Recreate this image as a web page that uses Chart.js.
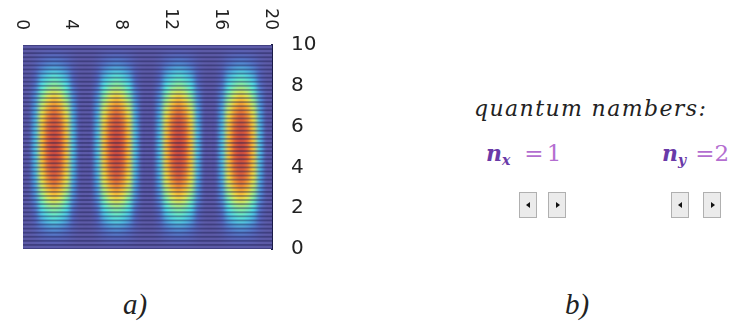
<!DOCTYPE html>
<html>
<head>
<meta charset="utf-8">
<script src="https://cdn.jsdelivr.net/npm/chart.js@4"></script>
<style>
  html, body { margin: 0; padding: 0; background: #ffffff; }
  body { width: 738px; height: 332px; position: relative; overflow: hidden; }
  #c { position: absolute; left: 0; top: 0; }
  .lbl { position: absolute; white-space: nowrap; }
  #qn { left: 474px; top: 96px; font: italic 22px "DejaVu Serif", serif; color: #222; letter-spacing: 1.4px; }
  .nq { top: 140px; font-family: "DejaVu Serif", serif; font-size: 22px; color: #b46ed0; }
  .nq b { font-style: italic; color: #6a3aa8; font-weight: bold; }
  .nq sub { font-style: italic; font-weight: bold; font-size: 14px; color: #6a3aa8; vertical-align: -4px; }
  .nq .eq { font-size: 23px; }
  #nx .eq { margin-left: 14px; letter-spacing: 3px; }
  #ny .eq { margin-left: 9px; }
  #nx { left: 486px; }
  #ny { left: 662px; }
  .btn { position: absolute; top: 192px; width: 18px; height: 26px; box-sizing: border-box;
         border: 1px solid #b0b0b0; background: #ebebeb; }
  .btn::after { content: ""; position: absolute; top: 9px; width: 0; height: 0;
         border-top: 3.5px solid transparent; border-bottom: 3.5px solid transparent; }
  .btn.l::after { left: 6px; border-right: 4px solid #111; }
  .btn.r::after { left: 7px; border-left: 4px solid #111; }
  .cap { top: 288px; font: italic 29px "Liberation Serif", serif; color: #222; }
</style>
</head>
<body>
<canvas id="c" width="330" height="280"></canvas>
<div class="lbl" id="qn">quantum nambers:</div>
<div class="lbl nq" id="nx"><b>n</b><sub>x</sub><span class="eq">=1</span></div>
<div class="lbl nq" id="ny"><b>n</b><sub>y</sub><span class="eq">=2</span></div>
<div class="btn l" style="left:519px"></div>
<div class="btn r" style="left:548px"></div>
<div class="btn l" style="left:671px"></div>
<div class="btn r" style="left:703px"></div>
<div class="lbl cap" style="left:123px">a)</div>
<div class="lbl cap" style="left:565px">b)</div>
<script>
// ---- data ----
const xTickLabels = [0, 4, 8, 12, 16, 20];
const yTickLabels = [0, 2, 4, 6, 8, 10];
// sample positions of the density grid
const xSamples = [0,0.5,1,1.5,2,2.5,3,3.5,4,4.5,5,5.5,6,6.5,7,7.5,8,8.5,9,9.5,10,
                  10.5,11,11.5,12,12.5,13,13.5,14,14.5,15,15.5,16,16.5,17,17.5,18,18.5,19,19.5,20];
const ySamples = [0,0.5,1,1.5,2,2.5,3,3.5,4,4.5,5,5.5,6,6.5,7,7.5,8,8.5,9,9.5,10];
// probability density (0..100), one row per y sample, bottom (y=0) to top (y=10)
const density = [
 [0,0,0,0,0,0,0,0,0,0,0,0,0,0,0,0,0,0,0,0,0,0,0,0,0,0,0,0,0,0,0,0,0,0,0,0,0,0,0,0,0],
 [0,0,2,5,7,8,7,5,2,0,0,0,2,5,7,8,7,5,2,0,0,0,2,5,7,8,7,5,2,0,0,0,2,5,7,8,7,5,2,0,0],
 [0,1,6,14,18,20,18,14,6,1,0,1,6,14,18,20,18,14,6,1,0,1,6,14,18,20,18,14,6,1,0,1,6,14,18,20,18,14,6,1,0],
 [0,1,11,26,33,37,33,26,11,1,0,1,11,26,33,37,33,26,11,1,0,1,11,26,33,37,33,26,11,1,0,1,11,26,33,37,33,26,11,1,0],
 [0,2,15,35,45,50,45,35,15,2,0,2,15,35,45,50,45,35,15,2,0,2,15,35,45,50,45,35,15,2,0,2,15,35,45,50,45,35,15,2,0],
 [0,3,20,47,60,67,60,47,20,3,0,3,20,47,60,67,60,47,20,3,0,3,20,47,60,67,60,47,20,3,0,3,20,47,60,67,60,47,20,3,0],
 [0,3,24,56,72,80,72,56,24,3,0,3,24,56,72,80,72,56,24,3,0,3,24,56,72,80,72,56,24,3,0,3,24,56,72,80,72,56,24,3,0],
 [0,4,27,63,81,90,81,63,27,4,0,4,27,63,81,90,81,63,27,4,0,4,27,63,81,90,81,63,27,4,0,4,27,63,81,90,81,63,27,4,0],
 [0,4,29,67,86,95,86,67,29,4,0,4,29,67,86,95,86,67,29,4,0,4,29,67,86,95,86,67,29,4,0,4,29,67,86,95,86,67,29,4,0],
 [0,4,29,69,88,98,88,69,29,4,0,4,29,69,88,98,88,69,29,4,0,4,29,69,88,98,88,69,29,4,0,4,29,69,88,98,88,69,29,4,0],
 [0,4,30,70,90,100,90,70,30,4,0,4,30,70,90,100,90,70,30,4,0,4,30,70,90,100,90,70,30,4,0,4,30,70,90,100,90,70,30,4,0],
 [0,4,29,69,88,98,88,69,29,4,0,4,29,69,88,98,88,69,29,4,0,4,29,69,88,98,88,69,29,4,0,4,29,69,88,98,88,69,29,4,0],
 [0,4,29,67,86,95,86,67,29,4,0,4,29,67,86,95,86,67,29,4,0,4,29,67,86,95,86,67,29,4,0,4,29,67,86,95,86,67,29,4,0],
 [0,4,27,63,81,90,81,63,27,4,0,4,27,63,81,90,81,63,27,4,0,4,27,63,81,90,81,63,27,4,0,4,27,63,81,90,81,63,27,4,0],
 [0,3,24,56,72,80,72,56,24,3,0,3,24,56,72,80,72,56,24,3,0,3,24,56,72,80,72,56,24,3,0,3,24,56,72,80,72,56,24,3,0],
 [0,3,20,47,60,67,60,47,20,3,0,3,20,47,60,67,60,47,20,3,0,3,20,47,60,67,60,47,20,3,0,3,20,47,60,67,60,47,20,3,0],
 [0,2,15,35,45,50,45,35,15,2,0,2,15,35,45,50,45,35,15,2,0,2,15,35,45,50,45,35,15,2,0,2,15,35,45,50,45,35,15,2,0],
 [0,1,11,26,33,37,33,26,11,1,0,1,11,26,33,37,33,26,11,1,0,1,11,26,33,37,33,26,11,1,0,1,11,26,33,37,33,26,11,1,0],
 [0,1,6,14,18,20,18,14,6,1,0,1,6,14,18,20,18,14,6,1,0,1,6,14,18,20,18,14,6,1,0,1,6,14,18,20,18,14,6,1,0],
 [0,0,2,5,7,8,7,5,2,0,0,0,2,5,7,8,7,5,2,0,0,0,2,5,7,8,7,5,2,0,0,0,2,5,7,8,7,5,2,0,0],
 [0,0,0,0,0,0,0,0,0,0,0,0,0,0,0,0,0,0,0,0,0,0,0,0,0,0,0,0,0,0,0,0,0,0,0,0,0,0,0,0,0]
];

// ---- styling ----
const colorStops = [
  [0.00, [92, 90, 166]],
  [0.12, [86, 108, 196]],
  [0.25, [80, 170, 226]],
  [0.35, [82, 226, 230]],
  [0.50, [145, 236, 150]],
  [0.62, [238, 234, 72]],
  [0.75, [246, 168, 52]],
  [0.88, [226, 102, 58]],
  [1.00, [196, 72, 66]]
];
function cmap(v) {
  v = Math.max(0, Math.min(1, v));
  for (let k = 1; k < colorStops.length; k++) {
    const [t1, c1] = colorStops[k];
    const [t0, c0] = colorStops[k - 1];
    if (v <= t1) {
      const f = (v - t0) / (t1 - t0);
      return [0, 1, 2].map(i => Math.round(c0[i] + f * (c1[i] - c0[i])));
    }
  }
  return colorStops[colorStops.length - 1][1];
}
const stripeStep = 0.2;

const heatmapPlugin = {
  id: 'heatmap',
  beforeDatasetsDraw(chart) {
    const { ctx, chartArea: a, scales: { x, y } } = chart;
    const nx = xSamples.length, ny = ySamples.length;
    const off = document.createElement('canvas');
    off.width = nx; off.height = ny;
    const octx = off.getContext('2d');
    const img = octx.createImageData(nx, ny);
    for (let j = 0; j < ny; j++) {
      const row = density[ny - 1 - j];
      for (let i = 0; i < nx; i++) {
        const c = cmap(row[i] / 100);
        const p = (j * nx + i) * 4;
        img.data[p] = c[0]; img.data[p + 1] = c[1]; img.data[p + 2] = c[2]; img.data[p + 3] = 255;
      }
    }
    octx.putImageData(img, 0, 0);
    const dx = xSamples[1] - xSamples[0], dy = ySamples[1] - ySamples[0];
    const x0 = x.getPixelForValue(xSamples[0] - dx / 2);
    const x1 = x.getPixelForValue(xSamples[nx - 1] + dx / 2);
    const yT = y.getPixelForValue(ySamples[ny - 1] + dy / 2);
    const yB = y.getPixelForValue(ySamples[0] - dy / 2);
    ctx.save();
    ctx.beginPath();
    ctx.rect(a.left, a.top, a.right - a.left, a.bottom - a.top);
    ctx.clip();
    ctx.imageSmoothingEnabled = true;
    ctx.imageSmoothingQuality = 'high';
    ctx.drawImage(off, x0, yT, x1 - x0, yB - yT);
    // horizontal raster stripes
    ctx.fillStyle = 'rgba(25, 25, 75, 0.42)';
    for (let v = 0; v <= 10 + 1e-9; v += stripeStep) {
      const py = y.getPixelForValue(v);
      ctx.fillRect(a.left, py - 0.9, a.right - a.left, 1.8);
    }
    ctx.restore();
  },
  afterDraw(chart) {
    const { ctx, scales: { x } } = chart;
    ctx.save();
    ctx.fillStyle = '#222';
    ctx.font = '17px "DejaVu Sans", sans-serif';
    ctx.textAlign = 'right';
    ctx.textBaseline = 'middle';
    xTickLabels.forEach(v => {
      const px = x.getPixelForValue(v) - 2;
      ctx.save();
      ctx.translate(px, 30);
      ctx.rotate(Math.PI / 2);
      ctx.fillText(String(v), 0, 0);
      ctx.restore();
    });
    ctx.restore();
  }
};

new Chart(document.getElementById('c'), {
  type: 'scatter',
  data: { datasets: [{ data: [], pointRadius: 0 }] },
  options: {
    responsive: false,
    animation: false,
    layout: { padding: { left: 23, top: 0, right: 0, bottom: 14 } },
    plugins: { legend: { display: false }, tooltip: { enabled: false } },
    scales: {
      x: {
        type: 'linear', position: 'top', min: 0, max: 20,
        grid: { display: false }, border: { display: false },
        ticks: { display: false },
        afterFit(s) { s.height = 45; }
      },
      y: {
        type: 'linear', position: 'right', min: 0, max: 10,
        afterBuildTicks(s) { s.ticks = yTickLabels.map(v => ({ value: v })); },
        grid: { drawOnChartArea: false, drawTicks: false },
        border: { display: true, color: '#1b1b48', width: 2 },
        ticks: { padding: 19, color: '#222', font: { family: 'DejaVu Sans', size: 20 } },
        afterFit(s) { s.width = 58; }
      }
    }
  },
  plugins: [heatmapPlugin]
});
</script>
</body>
</html>
